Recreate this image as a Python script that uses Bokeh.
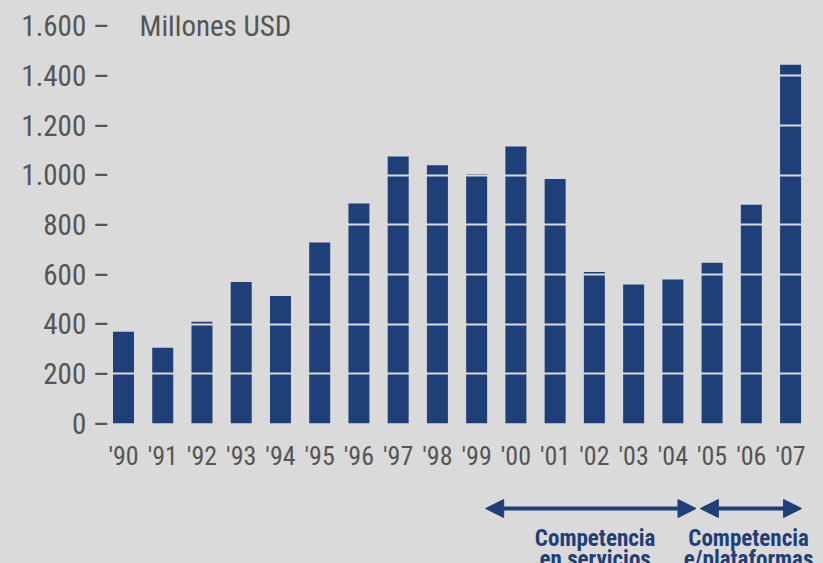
from bokeh.plotting import figure
from bokeh.models import FixedTicker, Label, Arrow, NormalHead, Range1d
from bokeh.layouts import column
from bokeh.core.properties import value
from bokeh.embed import file_html
from bokeh.resources import INLINE

# ---- data ----
years = ["'90", "'91", "'92", "'93", "'94", "'95", "'96", "'97", "'98",
         "'99", "'00", "'01", "'02", "'03", "'04", "'05", "'06", "'07"]
values = [370, 305, 410, 570, 514, 729, 886, 1076, 1040,
          1004, 1116, 985, 610, 560, 580, 648, 881, 1445]
y_ticks = [0, 200, 400, 600, 800, 1000, 1200, 1400, 1600]
y_tick_labels = ["0 \u2013", "200 \u2013", "400 \u2013", "600 \u2013", "800 \u2013",
                 "1.000 \u2013", "1.200 \u2013", "1.400 \u2013", "1.600 \u2013"]
unit_label = "Millones USD"
period_line1 = ["Competencia", "Competencia"]
period_line2 = ["en servicios", "e/plataformas"]
period_start = [9.23, 14.70]
period_end = [14.59, 17.28]
period_text_x = [12.02, 15.93]

# ---- style ----
BG = "#dadada"
NAVY = "#1e3f78"
GRAY = "#555555"
FONT = "Roboto Condensed"

x = list(range(len(years)))
xr = Range1d(-0.3313, 17.839)

p = figure(width=823, height=479, x_range=xr, y_range=Range1d(0, 1643.5),
           output_backend="svg", toolbar_location=None, tools="",
           min_border_left=110, min_border_right=0, min_border_top=15,
           min_border_bottom=56)
p.background_fill_color = None
p.border_fill_color = None
p.outline_line_color = None

p.vbar(x=x, top=values, width=0.535, bottom=0, fill_color=NAVY, line_color=None)

# grid in background colour drawn over bars -> gaps in bars
p.xgrid.visible = False
p.ygrid.ticker = FixedTicker(ticks=y_ticks[1:-1])
p.ygrid.grid_line_color = BG
p.ygrid.grid_line_width = 2
p.ygrid.level = "overlay"

yax = p.yaxis[0]
yax.ticker = FixedTicker(ticks=y_ticks)
yax.major_label_overrides = {t: l for t, l in zip(y_ticks, y_tick_labels)}
yax.axis_line_color = None
yax.major_tick_line_color = None
yax.minor_tick_line_color = None
yax.major_tick_out = 0
yax.major_tick_in = 0
yax.major_label_standoff = 1
yax.major_label_text_font = FONT
yax.major_label_text_font_size = "29px"
yax.major_label_text_color = GRAY

xax = p.xaxis[0]
xax.ticker = FixedTicker(ticks=x)
xax.major_label_overrides = {i: y for i, y in zip(x, years)}
xax.axis_line_color = None
xax.major_tick_line_color = None
xax.minor_tick_line_color = None
xax.major_tick_out = 0
xax.major_tick_in = 0
xax.major_label_standoff = 17
xax.major_label_text_font = FONT
xax.major_label_text_font_size = "26px"
xax.major_label_text_color = GRAY

p.add_layout(Label(x=0.408, y=1600, text=unit_label, text_font=FONT,
                   text_font_size="29px", text_color=GRAY,
                   text_baseline="middle", text_align="left"))

# ---- bottom strip with period arrows ----
q = figure(width=823, height=84, x_range=xr, y_range=Range1d(0, 84),
           output_backend="svg", toolbar_location=None, tools="",
           min_border_left=110, min_border_right=0, min_border_top=0,
           min_border_bottom=0)
q.background_fill_color = None
q.border_fill_color = None
q.outline_line_color = None
q.axis.visible = False
q.grid.visible = False

for s, e in zip(period_start, period_end):
    q.add_layout(Arrow(x_start=s, x_end=e, y_start=55, y_end=55,
                       line_color=NAVY, line_width=4,
                       start=NormalHead(size=18, fill_color=NAVY, line_color=NAVY),
                       end=NormalHead(size=18, fill_color=NAVY, line_color=NAVY)))

q.text(x=period_text_x, y=[25, 25], text=period_line1, text_font=value(FONT),
       text_font_style="bold", text_font_size="23px", text_color=NAVY,
       text_align="center", text_baseline="alphabetic")
q.text(x=period_text_x, y=[4, 4], text=period_line2, text_font=value(FONT),
       text_font_style="bold", text_font_size="23px", text_color=NAVY,
       text_align="center", text_baseline="alphabetic")

layout = column(p, q, spacing=0, styles={"background-color": BG})
open("out.html", "w").write(file_html(layout, INLINE))
